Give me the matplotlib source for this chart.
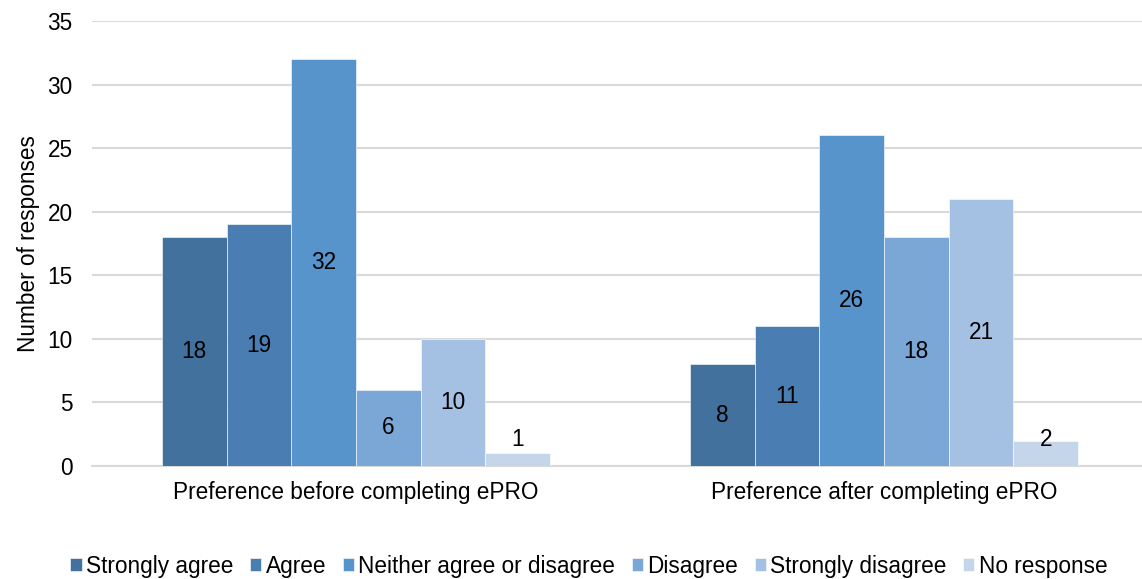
import matplotlib
matplotlib.use("Agg")
import matplotlib.pyplot as plt
import numpy as np

plt.rcParams['font.family'] = ['Liberation Sans', 'DejaVu Sans']

categories = ["Preference before completing ePRO", "Preference after completing ePRO"]
series_names = ["Strongly agree", "Agree", "Neither agree or disagree",
                "Disagree", "Strongly disagree", "No response"]
before = [18, 19, 32, 6, 10, 1]
after = [8, 11, 26, 18, 21, 2]
colors = ["#41719C", "#4A7EB3", "#5894CC", "#7BA7D7", "#A4C0E3", "#C5D5EA"]

W, H = 1142, 579
fig = plt.figure(figsize=(W / 100, H / 100), dpi=100)
left, right, bottom, top = 92, 1142, 466, 21
ax = fig.add_axes([left / W, 1 - bottom / H, (right - left) / W, (bottom - top) / H])

FS = 16.3
x = np.arange(len(categories))
n = len(series_names)
group_w = 0.735
bw = group_w / n
values = np.array([before, after])

for i, name in enumerate(series_names):
    pos = x - group_w / 2 + bw * (i + 0.5)
    vals = values[:, i]
    ax.bar(pos, vals, width=bw, color=colors[i], label=name, zorder=3,
           edgecolor="white", linewidth=0.4)
    for p, v in zip(pos, vals):
        ax.text(p, max(v / 2, 2.05), str(v), ha="center", va="center",
                fontsize=FS, color="#000000", zorder=4)

ax.set_ylim(0, 35)
ax.set_yticks(range(0, 36, 5))
ax.set_xlim(-0.5, 1.5 - 6 / 528)
ax.set_xticks(x)
ax.set_xticklabels(categories, fontsize=FS)
ax.tick_params(axis="y", labelsize=FS, length=0, pad=14, colors="#000000")
ax.tick_params(axis="x", length=0, pad=11)
ax.yaxis.grid(True, color="#D9D9D9", linewidth=1.5, zorder=0)
for s in ["top", "right", "left"]:
    ax.spines[s].set_visible(False)
ax.spines["bottom"].set_color("#D9D9D9")
ax.spines["bottom"].set_linewidth(1.5)
ax.set_ylabel("Number of responses", fontsize=FS, labelpad=5)

fig.legend(loc="center", bbox_to_anchor=(589 / W, 1 - 566 / H), ncol=6, frameon=False,
           fontsize=FS, handlelength=0.5, handleheight=0.55, handletextpad=0.2,
           columnspacing=0.72, borderaxespad=0, borderpad=0)

fig.savefig("out.png", dpi=100)
